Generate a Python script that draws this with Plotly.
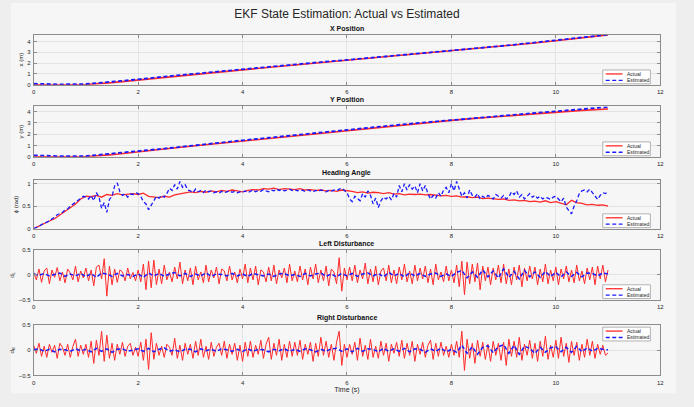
import numpy as np
import plotly.graph_objects as go

# ---------------------------------------------------------------- data
POS_STEP = 0.5
X_ACTUAL = [0.00, 0.00, 0.02, 0.20, 0.45, 0.70, 0.93, 1.15, 1.38, 1.60, 1.82, 2.04,
            2.25, 2.46, 2.67, 2.88, 3.10, 3.33, 3.57, 3.82, 4.08, 4.35, 4.62]
X_EST = [0.10, 0.04, 0.07, 0.26, 0.50, 0.76, 0.99, 1.21, 1.44, 1.66, 1.88, 2.10,
         2.30, 2.51, 2.72, 2.93, 3.14, 3.37, 3.61, 3.86, 4.12, 4.38, 4.64]
Y_ACTUAL = [0.00, 0.00, 0.00, 0.18, 0.45, 0.68, 0.92, 1.15, 1.38, 1.62, 1.87, 2.11,
            2.35, 2.58, 2.80, 3.01, 3.22, 3.42, 3.60, 3.78, 3.96, 4.10, 4.23]
Y_EST = [0.12, 0.05, 0.06, 0.25, 0.50, 0.72, 0.98, 1.22, 1.45, 1.68, 1.92, 2.15,
         2.38, 2.61, 2.83, 3.04, 3.25, 3.45, 3.64, 3.83, 4.02, 4.22, 4.40]

HEAD_ACT_STEP = 0.1
HEAD_ACTUAL = [
    0.00, 0.06, 0.11, 0.17, 0.22, 0.30, 0.38, 0.45, 0.55, 0.66,
    0.72, 0.71, 0.74, 0.70, 0.76, 0.74, 0.78, 0.75, 0.77, 0.78,
    0.76, 0.79, 0.72, 0.71, 0.69, 0.72, 0.70, 0.75, 0.77, 0.80,
    0.82, 0.80, 0.83, 0.81, 0.84, 0.82, 0.85, 0.83, 0.86, 0.84,
    0.82, 0.85, 0.87, 0.86, 0.89, 0.88, 0.90, 0.87, 0.89, 0.88,
    0.87, 0.89, 0.86, 0.87, 0.85, 0.86, 0.84, 0.85, 0.83, 0.86,
    0.85, 0.83, 0.80, 0.82, 0.79, 0.81, 0.80, 0.78, 0.80, 0.77,
    0.78, 0.75, 0.77, 0.76, 0.77, 0.75, 0.76, 0.74, 0.73, 0.74,
    0.72, 0.73, 0.70, 0.71, 0.69, 0.70, 0.67, 0.68, 0.66, 0.65,
    0.66, 0.63, 0.64, 0.62, 0.63, 0.60, 0.61, 0.59, 0.62, 0.58,
    0.60, 0.56, 0.53, 0.63, 0.58, 0.56, 0.53, 0.54, 0.52, 0.53,
    0.50]

FAST_STEP = 0.05
HEAD_EST = [
    0.00, 0.02, 0.05, 0.09, 0.12, 0.15, 0.17, 0.22, 0.25, 0.31, 0.34, 0.36, 0.42, 0.44, 0.50, 0.55, 0.58, 0.63, 0.67, 0.72,
    0.70, 0.66, 0.74, 0.62, 0.80, 0.70, 0.45, 0.58, 0.36, 0.65, 0.72, 0.95, 1.02, 0.82, 0.74, 0.78, 0.70, 0.77, 0.76, 0.80,
    0.78, 0.72, 0.60, 0.55, 0.42, 0.52, 0.65, 0.72, 0.68, 0.74, 0.70, 0.78, 0.90, 0.85, 0.98, 0.88, 1.05, 0.92, 0.98, 0.86,
    0.84, 0.80, 0.88, 0.82, 0.85, 0.80, 0.86, 0.82, 0.84, 0.80, 0.82, 0.79, 0.83, 0.80, 0.82, 0.84, 0.81, 0.83, 0.80, 0.82,
    0.81, 0.84, 0.80, 0.83, 0.86, 0.82, 0.85, 0.83, 0.87, 0.84, 0.82, 0.86, 0.84, 0.88, 0.85, 0.87, 0.84, 0.86, 0.88, 0.85,
    0.87, 0.84, 0.86, 0.85, 0.83, 0.86, 0.84, 0.82, 0.85, 0.83, 0.86, 0.84, 0.82, 0.85, 0.83, 0.86, 0.84, 0.88, 0.90, 0.85,
    0.80, 0.66, 0.60, 0.72, 0.68, 0.62, 0.78, 0.70, 0.84, 0.74, 0.55, 0.68, 0.47, 0.62, 0.70, 0.66, 0.72, 0.64, 0.78, 0.70,
    0.96, 0.82, 1.00, 0.86, 0.98, 0.88, 0.95, 0.80, 1.00, 0.84, 0.96, 0.78, 0.66, 0.74, 0.68, 0.80, 0.72, 0.86, 0.92, 0.80,
    1.00, 0.84, 1.05, 0.90, 0.72, 0.80, 0.68, 0.86, 0.74, 0.70, 0.78, 0.66, 0.72, 0.68, 0.74, 0.70, 0.66, 0.76, 0.72, 0.68,
    0.74, 0.66, 0.70, 0.82, 0.76, 0.84, 0.70, 0.76, 0.66, 0.72, 0.78, 0.70, 0.74, 0.68, 0.72, 0.66, 0.70, 0.68, 0.65, 0.70,
    0.72, 0.66, 0.60, 0.68, 0.48, 0.40, 0.33, 0.50, 0.62, 0.78, 0.84, 0.86, 0.82, 0.88, 0.80, 0.72, 0.65, 0.74, 0.80, 0.78,
    0.82]

DL_ACTUAL = [
    0.05, -0.10, 0.12, -0.15, 0.08, 0.14, -0.18, 0.10, -0.05, 0.15, -0.12, 0.06, -0.16, 0.12, 0.04, -0.10, 0.18, -0.14, 0.08, -0.06,
    0.14, -0.12, 0.10, -0.22, 0.16, 0.20, -0.08, 0.33, -0.43, 0.18, -0.20, 0.12, -0.15, 0.10, 0.06, -0.12, 0.14, -0.08, 0.05, -0.12,
    0.10, -0.14, 0.22, -0.30, 0.28, -0.26, 0.30, -0.20, 0.12, -0.18, 0.20, -0.10, 0.06, -0.14, 0.16, -0.08, 0.26, -0.18, 0.10, -0.12,
    0.14, -0.20, 0.18, -0.10, 0.06, -0.16, 0.20, -0.14, 0.10, -0.06, 0.16, -0.18, 0.12, 0.08, -0.12, 0.18, -0.10, 0.06, -0.16, 0.12,
    -0.08, 0.22, -0.16, 0.14, -0.10, 0.18, -0.20, 0.10, 0.06, -0.14, 0.16, -0.12, 0.20, -0.18, 0.10, -0.06, 0.14, -0.16, 0.22, -0.12,
    0.08, -0.14, 0.18, -0.10, 0.12, -0.20, 0.16, -0.08, 0.22, -0.16, 0.10, -0.12, 0.18, -0.22, 0.12, 0.06, -0.18, 0.35, -0.33, 0.14,
    -0.10, 0.16, -0.12, 0.20, -0.16, 0.10, -0.08, 0.24, -0.18, 0.12, -0.14, 0.18, -0.20, 0.08, 0.14, -0.12, 0.20, -0.16, 0.10, -0.18,
    0.16, -0.10, 0.22, -0.14, 0.08, -0.18, 0.20, -0.12, 0.14, -0.08, 0.18, -0.16, 0.12, -0.20, 0.22, -0.10, 0.06, -0.14, 0.18, -0.12,
    0.10, -0.16, 0.20, -0.24, 0.28, -0.40, 0.26, -0.18, 0.22, -0.14, 0.24, -0.30, 0.18, -0.12, 0.16, -0.20, 0.14, -0.10, 0.20, -0.16,
    0.22, -0.18, 0.12, -0.20, 0.16, -0.10, 0.20, -0.24, 0.14, -0.12, 0.18, -0.08, 0.16, -0.20, 0.12, -0.14, 0.22, -0.18, 0.10, -0.12,
    0.16, -0.20, 0.12, -0.08, 0.18, -0.14, 0.10, -0.16, 0.20, -0.12, 0.08, -0.18, 0.14, -0.10, 0.16, -0.20, 0.18, -0.08, 0.20, -0.14,
    0.10]

DR_ACTUAL = [
    0.10, -0.06, 0.14, -0.12, 0.08, -0.14, 0.12, -0.04, 0.10, -0.16, 0.14, 0.06, -0.10, 0.12, -0.14, 0.08, 0.22, -0.12, 0.10, -0.08,
    0.12, -0.14, 0.18, -0.26, 0.20, -0.10, 0.38, -0.22, 0.30, -0.16, 0.14, -0.20, 0.12, -0.08, 0.16, -0.12, 0.08, 0.14, -0.10, 0.06,
    -0.12, 0.16, -0.20, 0.22, -0.38, 0.35, -0.18, 0.14, -0.10, 0.08, -0.14, 0.12, 0.06, -0.10, 0.24, -0.16, 0.10, -0.20, 0.14, -0.08,
    0.12, -0.16, 0.18, -0.10, 0.22, -0.14, 0.08, -0.18, 0.16, -0.12, 0.06, 0.14, -0.10, 0.18, -0.16, 0.12, -0.08, 0.14, -0.20, 0.10,
    -0.22, 0.16, -0.12, 0.18, -0.14, 0.10, -0.08, 0.20, -0.16, 0.12, 0.26, -0.18, 0.14, -0.10, 0.22, -0.20, 0.12, -0.14, 0.18, -0.12,
    0.16, -0.10, 0.20, -0.18, 0.12, -0.08, 0.16, -0.22, 0.14, -0.12, 0.26, -0.10, 0.18, -0.14, 0.12, -0.20, 0.16, 0.38, -0.30, 0.12,
    -0.14, 0.12, -0.08, 0.16, -0.20, 0.24, -0.12, 0.10, -0.18, 0.22, -0.14, 0.08, -0.16, 0.18, -0.10, 0.14, -0.22, 0.12, -0.06, 0.16,
    -0.12, 0.20, -0.16, 0.14, -0.10, 0.18, -0.22, 0.12, -0.08, 0.16, -0.14, 0.10, 0.20, -0.18, 0.14, -0.12, 0.16, -0.10, 0.08, -0.14,
    0.12, -0.10, 0.18, -0.14, 0.38, -0.40, 0.22, -0.16, 0.14, -0.26, 0.20, -0.12, 0.16, -0.18, 0.12, -0.22, 0.18, -0.10, 0.14, -0.20,
    0.16, -0.30, 0.22, -0.12, 0.18, -0.14, 0.26, -0.20, 0.12, -0.10, 0.20, -0.16, 0.14, -0.22, 0.18, -0.12, 0.28, -0.18, 0.10, -0.14,
    0.20, -0.16, 0.26, -0.12, 0.14, -0.24, 0.18, -0.10, 0.16, -0.20, 0.12, -0.14, 0.22, -0.10, 0.18, -0.16, 0.12, -0.08, 0.10, -0.10,
    -0.05]

DIST_EST_STEP = 0.1
DL_EST = [
    0.02, -0.01, 0.03, -0.02, 0.01, 0.04, -0.03, 0.02, -0.02, 0.03,
    -0.04, 0.03, -0.05, 0.04, 0.02, -0.03, 0.03, -0.02, 0.01, -0.03,
    0.02, -0.05, 0.04, -0.02, 0.03, -0.03, 0.02, 0.05, -0.02, 0.03,
    -0.03, 0.02, -0.02, 0.04, -0.03, 0.02, 0.01, -0.02, 0.03, -0.02,
    0.02, -0.03, 0.03, 0.01, -0.02, 0.02, -0.03, 0.02, 0.03, -0.02,
    0.01, -0.03, 0.03, -0.02, 0.02, 0.04, -0.03, 0.02, -0.04, 0.03,
    -0.02, 0.03, -0.03, 0.02, 0.04, -0.02, 0.03, -0.04, 0.05, -0.02,
    0.03, -0.04, 0.04, -0.02, 0.03, -0.03, 0.02, 0.04, -0.03, 0.02,
    -0.03, 0.05, 0.09, -0.06, 0.06, -0.05, 0.10, -0.04, 0.08, -0.06,
    0.12, -0.05, 0.07, -0.08, 0.09, -0.04, 0.06, -0.05, 0.07, -0.03,
    0.05, -0.04, 0.06, -0.03, 0.05, -0.04, 0.04, 0.03, -0.02, 0.04,
    0.02]
DR_EST = [
    0.01, 0.03, -0.02, 0.02, -0.03, 0.02, 0.01, -0.02, 0.03, -0.01,
    0.02, -0.03, 0.04, -0.02, 0.03, -0.04, 0.02, 0.03, -0.02, 0.01,
    0.03, -0.02, 0.04, -0.03, 0.02, 0.05, -0.02, 0.01, -0.03, 0.02,
    0.02, -0.03, 0.03, -0.01, 0.02, -0.02, 0.03, 0.01, -0.02, 0.02,
    -0.02, 0.03, -0.02, 0.02, 0.01, -0.03, 0.02, -0.01, 0.03, -0.02,
    0.02, -0.02, 0.03, 0.01, -0.03, 0.02, -0.02, 0.03, 0.04, -0.02,
    0.03, -0.03, 0.04, -0.02, 0.03, 0.02, -0.03, 0.04, -0.02, 0.03,
    -0.02, 0.04, -0.03, 0.03, 0.02, -0.04, 0.03, -0.02, 0.04, -0.03,
    0.02, -0.04, 0.10, -0.06, 0.07, -0.08, 0.06, 0.09, -0.05, 0.07,
    0.11, -0.06, 0.10, -0.08, 0.08, 0.04, -0.06, 0.06, -0.04, 0.05,
    0.07, -0.03, 0.06, -0.04, 0.08, -0.03, 0.05, -0.02, 0.04, 0.02,
    0.01]

SERIES_NAMES = ["Actual", "Estimated"]
PANEL_TITLES = ["X Position", "Y Position", "Heading Angle", "Left Disturbance", "Right Disturbance"]
Y_TITLES = ["x (m)", "y (m)", "\u03d5 (rad)", "d<sub>L</sub>", "d<sub>R</sub>"]
X_TICKS = [0, 2, 4, 6, 8, 10, 12]


def time_grid(values, step):
    return np.round(np.arange(len(values)) * step, 3)


# ---------------------------------------------------------------- layout geometry (pixels)
W, H = 694, 407
AX_LEFT, AX_RIGHT = 32, 664
PANEL_PIX = [(32, 83), (105, 156), (180, 229), (251, 301), (327, 378)]
Y_RANGES = [[0, 4.65], [0, 4.45], [0, 1.075], [-0.5, 0.5], [-0.5, 0.5]]
Y_TICKS = [[0, 1, 2, 3, 4], [0, 1, 2, 3, 4], [0, 0.5, 1], [-0.5, 0, 0.5], [-0.5, 0, 0.5]]
LEGEND_AT_TOP = [False, False, False, False, True]

RED = "#ff2a2a"
BLUE = "#1a1aff"
AXIS_COL = "#8c8c8c"
GRID_COL = "#e3e3e3"
TEXT_COL = "#262626"
FONT = "Liberation Sans, Arial, sans-serif"


def fx(px):
    return px / W


def fy(py):
    return 1 - py / H


panels = [
    (time_grid(X_ACTUAL, POS_STEP), X_ACTUAL, time_grid(X_EST, POS_STEP), X_EST, 1.6, 1.8),
    (time_grid(Y_ACTUAL, POS_STEP), Y_ACTUAL, time_grid(Y_EST, POS_STEP), Y_EST, 1.6, 1.8),
    (time_grid(HEAD_ACTUAL, HEAD_ACT_STEP), HEAD_ACTUAL, time_grid(HEAD_EST, FAST_STEP), HEAD_EST, 1.3, 1.3),
    (time_grid(DL_ACTUAL, FAST_STEP), DL_ACTUAL, time_grid(DL_EST, DIST_EST_STEP), DL_EST, 1.0, 1.5),
    (time_grid(DR_ACTUAL, FAST_STEP), DR_ACTUAL, time_grid(DR_EST, DIST_EST_STEP), DR_EST, 1.0, 1.5),
]

fig = go.Figure()
shapes = []
annotations = []
layout_axes = {}

# light figure panel behind the axes
shapes.append(dict(type="rect", xref="paper", yref="paper", x0=fx(9), x1=fx(680), y0=fy(396), y1=fy(0),
                   fillcolor="#f6f6f6", line=dict(width=0), layer="below"))

for i, (ta, ya, te, ye, wa, we) in enumerate(panels):
    n = i + 1
    xa = "x" if n == 1 else f"x{n}"
    yax = "y" if n == 1 else f"y{n}"
    fig.add_trace(go.Scatter(x=ta, y=ya, mode="lines", name=SERIES_NAMES[0], xaxis=xa, yaxis=yax,
                             line=dict(color=RED, width=wa), showlegend=False))
    fig.add_trace(go.Scatter(x=te, y=ye, mode="lines", name=SERIES_NAMES[1], xaxis=xa, yaxis=yax,
                             line=dict(color=BLUE, width=we, dash="4px,2.5px"), showlegend=False))

    top, bot = PANEL_PIX[i]
    common = dict(showline=True, linecolor=AXIS_COL, linewidth=1, mirror="ticks",
                  ticks="inside", ticklen=3, tickcolor=AXIS_COL, showgrid=True, gridcolor=GRID_COL,
                  gridwidth=1, zeroline=False, tickfont=dict(size=6, color=TEXT_COL, family=FONT))
    xkey = "xaxis" if n == 1 else f"xaxis{n}"
    ykey = "yaxis" if n == 1 else f"yaxis{n}"
    layout_axes[xkey] = dict(common, domain=[fx(AX_LEFT), fx(AX_RIGHT)], anchor=yax, range=[0, 12],
                             tickvals=X_TICKS, ticklabelstandoff=1)
    layout_axes[ykey] = dict(common, domain=[fy(bot), fy(top)], anchor=xa, range=Y_RANGES[i],
                             tickvals=Y_TICKS[i], ticklabelstandoff=1,
                             title=dict(text=Y_TITLES[i], font=dict(size=6, color=TEXT_COL, family=FONT),
                                        standoff=3))
    if n == 5:
        layout_axes[xkey]["title"] = dict(text="Time (s)", font=dict(size=7, color=TEXT_COL, family=FONT),
                                          standoff=2)

    # panel title
    annotations.append(dict(text=f"<b>{PANEL_TITLES[i]}</b>", xref="paper", yref="paper",
                            x=fx((AX_LEFT + AX_RIGHT) / 2), y=fy(top - 1), xanchor="center", yanchor="bottom",
                            showarrow=False, font=dict(size=7, color="#111111", family=FONT)))

    # legend box
    lw, lh = 48, 14
    lx1 = AX_RIGHT - 10
    lx0 = lx1 - lw
    if LEGEND_AT_TOP[i]:
        ly0 = top + 2
    else:
        ly0 = bot - 1 - lh
    ly1 = ly0 + lh
    shapes.append(dict(type="rect", xref="paper", yref="paper", x0=fx(lx0), x1=fx(lx1), y0=fy(ly1), y1=fy(ly0),
                       fillcolor="white", line=dict(color="#a0a0a0", width=0.8)))
    for k, (name, col, dash) in enumerate([(SERIES_NAMES[0], RED, "solid"), (SERIES_NAMES[1], BLUE, "4px,2.5px")]):
        rowy = ly0 + 4 + k * 6.5
        shapes.append(dict(type="line", xref="paper", yref="paper", x0=fx(lx0 + 3), x1=fx(lx0 + 20),
                           y0=fy(rowy), y1=fy(rowy), line=dict(color=col, width=1.3, dash=dash)))
        annotations.append(dict(text=name, xref="paper", yref="paper", x=fx(lx0 + 22), y=fy(rowy),
                                xanchor="left", yanchor="middle", showarrow=False,
                                font=dict(size=5, color=TEXT_COL, family=FONT)))

fig.update_layout(
    width=W, height=H,
    margin=dict(l=0, r=0, t=0, b=0),
    paper_bgcolor="#eeeeee",
    plot_bgcolor="white",
    showlegend=False,
    title=dict(text="EKF State Estimation: Actual vs Estimated", x=0.5, xanchor="center",
               y=fy(14), yanchor="middle", font=dict(size=12, color=TEXT_COL, family=FONT)),
    shapes=shapes,
    annotations=annotations,
    **layout_axes,
)

fig.write_html("out.html")
